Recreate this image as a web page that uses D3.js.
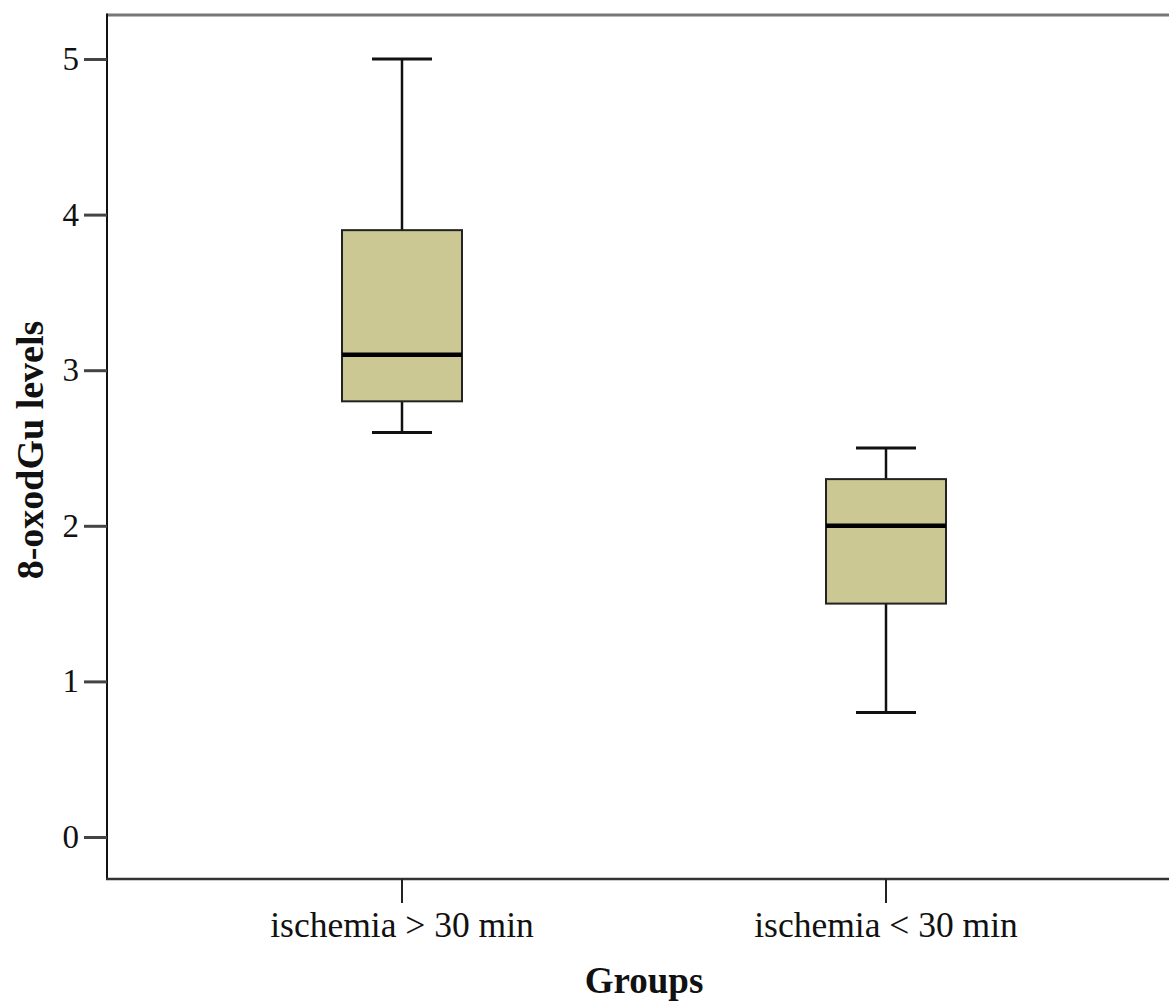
<!DOCTYPE html>
<html>
<head>
<meta charset="utf-8">
<script src="https://cdn.jsdelivr.net/npm/d3@7"></script>
<style>
  body { margin: 0; background: #fff; }
  text { font-family: "Liberation Serif", "Times New Roman", serif; fill: #111; }
</style>
</head>
<body>
<script>
// data
const groups = ['ischemia > 30 min', 'ischemia < 30 min']
const whiskerLow = [2.6, 0.8]
const q1 = [2.8, 1.5]
const median = [3.1, 2.0]
const q3 = [3.9, 2.3]
const whiskerHigh = [5.0, 2.5]
const yTicks = [0, 1, 2, 3, 4, 5]

const width = 1169
const height = 1003
const plotLeft = 107, plotTop = 15, plotBottom = 879

const svg = d3.select('body').append('svg').attr('width', width).attr('height', height)

const y = d3.scaleLinear().domain([0, 5]).range([837, 59])
const x = d3.scaleBand().domain(groups).range([160, 1128])
const boxW = 120, capW = 60

// frame
svg.append('line').attr('x1', plotLeft).attr('x2', width).attr('y1', plotTop).attr('y2', plotTop)
  .attr('stroke', '#777').attr('stroke-width', 3)
svg.append('line').attr('x1', plotLeft).attr('x2', plotLeft).attr('y1', plotTop - 1.5).attr('y2', plotBottom)
  .attr('stroke', '#111').attr('stroke-width', 2)
svg.append('line').attr('x1', plotLeft - 1).attr('x2', width).attr('y1', plotBottom).attr('y2', plotBottom)
  .attr('stroke', '#333').attr('stroke-width', 2.5)

// y axis
const yAxis = svg.append('g').attr('transform', `translate(${plotLeft},0)`)
  .call(d3.axisLeft(y).tickValues(yTicks).tickFormat(d3.format('d')).tickSize(23).tickPadding(5))
yAxis.select('.domain').remove()
yAxis.selectAll('.tick line').attr('stroke', '#444').attr('stroke-width', 3)
yAxis.selectAll('.tick text').attr('font-size', 33).attr('fill', '#111')
  .style('font-family', '"Liberation Serif", serif')

// x axis
const xAxis = svg.append('g').attr('transform', `translate(0,${plotBottom})`)
  .call(d3.axisBottom(x).tickSize(24).tickPadding(9))
xAxis.select('.domain').remove()
xAxis.selectAll('.tick line').attr('stroke', '#222').attr('stroke-width', 2)
xAxis.selectAll('.tick text').attr('font-size', 35.5).attr('fill', '#111')
  .style('font-family', '"Liberation Serif", serif')

// boxes
const g = svg.append('g')
groups.forEach((name, i) => {
  const cx = x(name) + x.bandwidth() / 2
  // whiskers
  g.append('line').attr('x1', cx).attr('x2', cx).attr('y1', y(whiskerHigh[i])).attr('y2', y(q3[i]))
    .attr('stroke', '#111').attr('stroke-width', 2.5)
  g.append('line').attr('x1', cx).attr('x2', cx).attr('y1', y(q1[i])).attr('y2', y(whiskerLow[i]))
    .attr('stroke', '#111').attr('stroke-width', 2.5)
  g.append('line').attr('x1', cx - capW / 2).attr('x2', cx + capW / 2).attr('y1', y(whiskerHigh[i])).attr('y2', y(whiskerHigh[i]))
    .attr('stroke', '#111').attr('stroke-width', 3)
  g.append('line').attr('x1', cx - capW / 2).attr('x2', cx + capW / 2).attr('y1', y(whiskerLow[i])).attr('y2', y(whiskerLow[i]))
    .attr('stroke', '#111').attr('stroke-width', 3)
  // box
  g.append('rect').attr('x', cx - boxW / 2).attr('width', boxW)
    .attr('y', y(q3[i])).attr('height', y(q1[i]) - y(q3[i]))
    .attr('fill', '#cbc893').attr('stroke', '#222').attr('stroke-width', 2)
  // median
  g.append('line').attr('x1', cx - boxW / 2).attr('x2', cx + boxW / 2).attr('y1', y(median[i])).attr('y2', y(median[i]))
    .attr('stroke', '#000').attr('stroke-width', 4.5)
})

// titles
svg.append('text').attr('x', 644).attr('y', 993).attr('text-anchor', 'middle')
  .attr('font-size', 37).attr('font-weight', 'bold').text('Groups')
svg.append('text').attr('transform', 'translate(43,450) rotate(-90)').attr('text-anchor', 'middle')
  .attr('font-size', 38).attr('font-weight', 'bold').text('8-oxodGu levels')
</script>
</body>
</html>
